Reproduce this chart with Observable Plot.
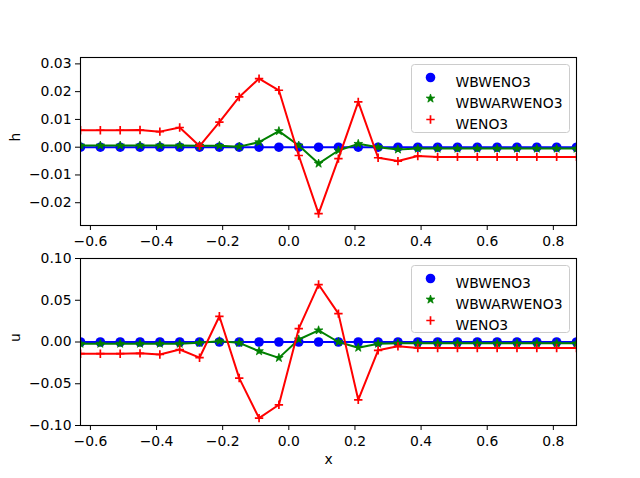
<!DOCTYPE html>
<html>
<head>
<meta charset="utf-8">
<script src="https://cdn.jsdelivr.net/npm/d3@7"></script>
<script src="https://cdn.jsdelivr.net/npm/@observablehq/plot@0.6"></script>
<style>
  body { margin: 0; background: #fff; }
  #wrap { position: relative; width: 640px; height: 478px; background: #fff; }
  #wrap > div { position: absolute; left: 0; }
  #top { top: 0; }
  #bot { top: 245px; }
</style>
</head>
<body>
<div id="wrap"><div id="top"></div><div id="bot"></div></div>
<script>
// ---- data ----
const xs = [-0.63,-0.57,-0.51,-0.45,-0.39,-0.33,-0.27,-0.21,-0.15,-0.09,-0.03,0.03,0.09,0.15,0.21,0.27,0.33,0.39,0.45,0.51,0.57,0.63,0.69,0.75,0.81,0.87];
const hWBWENO3 = xs.map(() => 0);
const hWBWARWENO3 = [0.0006,0.0006,0.0006,0.0006,0.0006,0.0006,0.0005,0.0005,0.0002,0.0018,0.0058,0.0006,-0.0059,-0.0012,0.0012,0.0000,-0.0008,-0.0005,-0.0005,-0.0005,-0.0005,-0.0005,-0.0005,-0.0005,-0.0005,-0.0005];
const hWENO3 = [0.0061,0.0061,0.0061,0.0062,0.0056,0.0071,0.0004,0.0090,0.0181,0.0247,0.0205,-0.0030,-0.0239,-0.0041,0.0163,-0.0038,-0.0050,-0.0032,-0.0035,-0.0035,-0.0035,-0.0035,-0.0035,-0.0035,-0.0035,-0.0035];
const uWBWENO3 = xs.map(() => 0);
const uWBWARWENO3 = [-0.002,-0.002,-0.002,-0.002,-0.002,-0.002,-0.001,0.001,-0.001,-0.011,-0.019,0.003,0.014,0.000,-0.0068,-0.002,-0.0016,-0.0016,-0.0016,-0.0016,-0.0016,-0.0016,-0.0016,-0.0016,-0.0016,-0.0016];
const uWENO3 = [-0.014,-0.014,-0.014,-0.0136,-0.015,-0.009,-0.0188,0.0308,-0.0432,-0.0912,-0.0752,0.016,0.0688,0.034,-0.0692,-0.010,-0.0052,-0.0072,-0.0072,-0.0072,-0.0072,-0.0072,-0.0072,-0.0072,-0.0072,-0.0072];
const seriesNames = ["WBWENO3", "WBWARWENO3", "WENO3"];
const xTicks = [-0.6,-0.4,-0.2,0.0,0.2,0.4,0.6,0.8];
const hTicks = [-0.02,-0.01,0.00,0.01,0.02,0.03];
const uTicks = [-0.10,-0.05,0.00,0.05,0.10];

// ---- styles ----
const colors = {WBWENO3: "#0000ff", WBWARWENO3: "#008000", WENO3: "#ff0000"};
const plusSymbol = {
  draw(context, size) {
    const r = Math.sqrt(size / Math.PI);
    context.moveTo(-r, 0); context.lineTo(r, 0);
    context.moveTo(0, -r); context.lineTo(0, r);
  }
};
const markerStyle = {
  WBWENO3: {symbol: "circle", r: 4.8, fill: colors.WBWENO3, stroke: "none"},
  WBWARWENO3: {symbol: "star", r: 2.7, fill: colors.WBWARWENO3, stroke: colors.WBWARWENO3, strokeWidth: 0.8},
  WENO3: {symbol: plusSymbol, r: 4.2, fill: "none", stroke: colors.WENO3, strokeWidth: 1.7}
};
const font = "DejaVu Sans, Liberation Sans, sans-serif";
const fs = "13.9px";

function seriesMarks(valuesByName) {
  const marks = [];
  for (const name of seriesNames) {
    const data = xs.map((x, i) => ({x, y: valuesByName[name][i]}));
    marks.push(Plot.line(data, {x: "x", y: "y", stroke: colors[name], strokeWidth: 2, clip: true}));
    marks.push(Plot.dot(data, {x: "x", y: "y", ...markerStyle[name], clip: true}));
  }
  return marks;
}

function legendMarks() {
  const marks = [
    Plot.frame({insetLeft: 331, insetRight: 7, insetTop: 7, insetBottom: 93, rx: 3, fill: "white", fillOpacity: 0.85, stroke: "#cccccc", strokeWidth: 1})
  ];
  seriesNames.forEach((name, k) => {
    const dy = 20 + k * 21;
    marks.push(Plot.dot([name], {frameAnchor: "top-left", dx: 350, dy, ...markerStyle[name]}));
    marks.push(Plot.text([name], {frameAnchor: "top-left", dx: 375, dy, text: d => d, textAnchor: "start", fill: "black", fontSize: 13.9}));
  });
  return marks;
}

function panel({values, ticks, domain, label, height, marginTop, marginBottom, xlabel}) {
  return Plot.plot({
    width: 640,
    height,
    marginLeft: 80,
    marginRight: 64,
    marginTop,
    marginBottom,
    style: {fontFamily: font, fontSize: fs, color: "black", background: "transparent", overflow: "visible"},
    x: {domain: [-0.63, 0.87], ticks: xTicks, tickFormat: d3.format(".1f"), tickSize: 5, tickPadding: 5.5, label: null},
    y: {domain, ticks, tickFormat: d3.format(".2f"), tickSize: 5, tickPadding: 4, label: null},
    marks: [
      ...seriesMarks(values),
      Plot.frame({stroke: "black", strokeWidth: 1.1}),
      ...legendMarks(),
      Plot.text([label], {frameAnchor: "left", dx: -65, rotate: -90, text: d => d, fill: "black", fontSize: 13.9}),
      ...(xlabel ? [Plot.text([xlabel], {frameAnchor: "bottom", dy: 38, text: d => d, fill: "black", fontSize: 13.9})] : [])
    ]
  });
}

document.getElementById("top").append(panel({
  values: {WBWENO3: hWBWENO3, WBWARWENO3: hWBWARWENO3, WENO3: hWENO3},
  ticks: hTicks, domain: [-0.0282, 0.0323], label: "h",
  height: 245, marginTop: 57, marginBottom: 20
}));
document.getElementById("bot").append(panel({
  values: {WBWENO3: uWBWENO3, WBWARWENO3: uWBWARWENO3, WENO3: uWENO3},
  ticks: uTicks, domain: [-0.1, 0.1], label: "u",
  height: 233, marginTop: 13, marginBottom: 53, xlabel: "x"
}));
</script>
</body>
</html>
